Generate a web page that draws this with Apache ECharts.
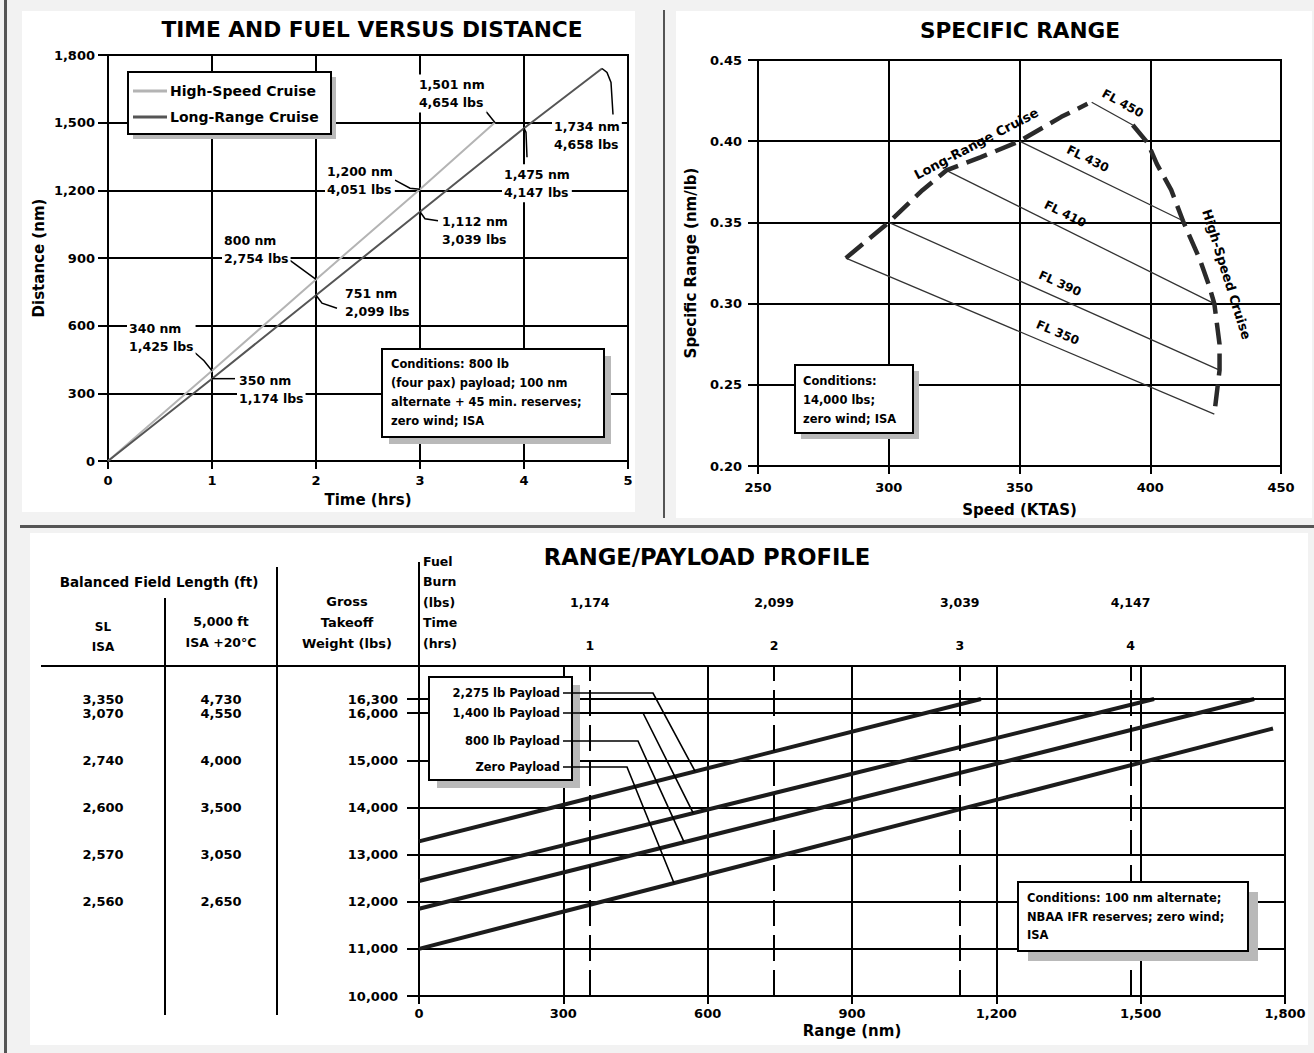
<!DOCTYPE html>
<html>
<head>
<meta charset="utf-8">
<script src="https://cdn.jsdelivr.net/npm/echarts/dist/echarts.min.js"></script>
<style>
  html, body { margin:0; padding:0; background:#f2f2f2; }
  #wrap { position:relative; width:1314px; height:1053px; overflow:hidden; }
  .p { position:absolute; background:#fff; }
  .d { position:absolute; background:#555; }
  #chart { position:absolute; left:0; top:0; width:1314px; height:1053px; }
</style>
</head>
<body>
<div id="wrap">
  <div class="d" style="left:4px;top:0;width:3px;height:1053px;"></div>
  <div class="p" style="left:22px;top:11px;width:613px;height:501px;"></div>
  <div class="p" style="left:676px;top:11px;width:636px;height:507px;"></div>
  <div class="d" style="left:663px;top:10px;width:2px;height:508px;"></div>
  <div class="d" style="left:20px;top:525px;width:1294px;height:3px;"></div>
  <div class="p" style="left:30px;top:533px;width:1278px;height:512px;"></div>
  <div id="chart"></div>
</div>
<script>
// ---------------- DATA ----------------
// Time and fuel versus distance
const hsTime = [0, 1, 2, 3, 3.72];
const hsDist = [0, 400, 805, 1205, 1501];
const lrTime = [0, 1, 2, 3, 4, 4.75];
const lrDist = [0, 365, 735, 1105, 1475, 1740];
const tfdNoteText = [
  ['340 nm', '1,425 lbs'],
  ['350 nm', '1,174 lbs'],
  ['800 nm', '2,754 lbs'],
  ['751 nm', '2,099 lbs'],
  ['1,200 nm', '4,051 lbs'],
  ['1,112 nm', '3,039 lbs'],
  ['1,475 nm', '4,147 lbs'],
  ['1,501 nm', '4,654 lbs'],
  ['1,734 nm', '4,658 lbs']
];
const tfdNoteSeries = ['hs', 'lr', 'hs', 'lr', 'hs', 'lr', 'lr', 'hs', 'lr'];
const tfdNoteIndex = [1, 1, 2, 2, 3, 3, 4, 4, 5];

// Specific range
const lrcSpeed = [283.6, 300, 313, 322, 335, 350, 366, 376];
const lrcSR    = [0.328, 0.350, 0.370, 0.382, 0.390, 0.400, 0.415, 0.423];
const hscSpeed = [393.3, 399, 402.5, 408, 412.5, 419, 422.5, 424.5, 426.5, 426.5, 424.5];
const hscSR    = [0.410, 0.399, 0.386, 0.370, 0.351, 0.327, 0.311, 0.300, 0.275, 0.259, 0.232];
const flNames      = ['FL 450', 'FL 430', 'FL 410', 'FL 390', 'FL 350'];
const flSpeedStart = [377.6, 350, 322, 300, 283.6];
const flSRStart    = [0.424, 0.400, 0.382, 0.350, 0.328];
const flSpeedEnd   = [393.3, 412.5, 424.5, 426.5, 424.5];
const flSREnd      = [0.410, 0.351, 0.300, 0.259, 0.232];

// Range / payload profile
const payloadNames      = ['2,275 lb Payload', '1,400 lb Payload', '800 lb Payload', 'Zero Payload'];
const payloadRangeStart = [0, 0, 0, 0];
const payloadGTWStart   = [13280, 12440, 11850, 11000];
const payloadRangeEnd   = [1168, 1528, 1736, 1775];
const payloadGTWEnd     = [16300, 16300, 16300, 15674];
const payloadCalloutRange = [574, 570, 551, 530];
const timeMarkRange = [355, 738, 1124, 1479];
const timeMarkHours = ['1', '2', '3', '4'];
const timeMarkFuel  = ['1,174', '2,099', '3,039', '4,147'];
const mtowGTW = 16300;
const gtwRows = [16300, 16000, 15000, 14000, 13000, 12000];
const bflSL   = ['3,350', '3,070', '2,740', '2,600', '2,570', '2,560'];
const bfl5000 = ['4,730', '4,550', '4,000', '3,500', '3,050', '2,650'];

// ---------------- STYLE / LAYOUT ----------------
const FONT = "'DejaVu Sans', 'Liberation Sans', sans-serif";
const fmtComma = v => Math.round(v).toLocaleString('en-US');

function makeAxis(grid, min, max, interval, name, nameGap, margin, tickLen, formatter) {
  return {
    type: 'value', gridIndex: grid, min, max, interval,
    name, nameLocation: 'middle', nameGap,
    nameTextStyle: { color: '#000', fontFamily: FONT, fontWeight: 'bold', fontSize: 15 },
    axisLine: { show: true, onZero: false, lineStyle: { color: '#000', width: 2 } },
    axisTick: { show: true, length: tickLen, lineStyle: { color: '#000', width: 2 } },
    splitLine: { show: true, lineStyle: { color: '#000', width: 2 } },
    axisLabel: { color: '#000', fontFamily: FONT, fontWeight: 'bold', fontSize: 13, margin, formatter }
  };
}

const chart = echarts.init(document.getElementById('chart'), null, { renderer: 'svg' });

const series = [];
series.push({ name: 'High-Speed Cruise', type: 'line', xAxisIndex: 0, yAxisIndex: 0, symbol: 'none',
  data: hsTime.map((t, i) => [t, hsDist[i]]), lineStyle: { color: '#b4b4b4', width: 2 }, z: 3 });
series.push({ name: 'Long-Range Cruise', type: 'line', xAxisIndex: 0, yAxisIndex: 0, symbol: 'none',
  data: lrTime.map((t, i) => [t, lrDist[i]]), lineStyle: { color: '#555', width: 2 }, z: 3 });
series.push({ name: 'Long-Range Cruise SR', type: 'line', xAxisIndex: 1, yAxisIndex: 1, symbol: 'none',
  data: lrcSpeed.map((s, i) => [s, lrcSR[i]]), lineStyle: { color: '#2a2a2a', width: 4.5, type: [22, 9] }, z: 4 });
series.push({ name: 'High-Speed Cruise SR', type: 'line', xAxisIndex: 1, yAxisIndex: 1, symbol: 'none',
  data: hscSpeed.map((s, i) => [s, hscSR[i]]), lineStyle: { color: '#2a2a2a', width: 4.5, type: [22, 9] }, z: 4 });
flNames.forEach((n, i) => series.push({ name: n, type: 'line', xAxisIndex: 1, yAxisIndex: 1, symbol: 'none',
  data: [[flSpeedStart[i], flSRStart[i]], [flSpeedEnd[i], flSREnd[i]]], lineStyle: { color: '#333', width: 1.3 }, z: 3 }));
payloadNames.forEach((n, i) => series.push({ name: n, type: 'line', xAxisIndex: 2, yAxisIndex: 2, symbol: 'none',
  data: [[payloadRangeStart[i], payloadGTWStart[i]], [payloadRangeEnd[i], payloadGTWEnd[i]]],
  lineStyle: { color: '#1c1c1c', width: 4 }, z: 4 }));
series[series.length - 1].markLine = {
  silent: true, symbol: ['none', 'none'], animation: false,
  data: timeMarkRange.map(r => ({ xAxis: r, lineStyle: { color: '#000', width: 2, type: [26, 9] }, label: { show: false } }))
    .concat([{ yAxis: mtowGTW, lineStyle: { color: '#000', width: 2, type: 'solid' },
      label: { show: true, position: 'start', distance: 21, formatter: fmtComma(mtowGTW), color: '#000',
        fontFamily: FONT, fontWeight: 'bold', fontSize: 13 } }])
};

const option = {
  animation: false,
  backgroundColor: 'transparent',
  grid: [
    { left: 108, top: 55, width: 520, height: 406, show: true, borderColor: '#000', borderWidth: 2 },
    { left: 758, top: 60, width: 523, height: 406, show: true, borderColor: '#000', borderWidth: 2 },
    { left: 419, top: 666, width: 866, height: 330, show: true, borderColor: '#000', borderWidth: 2 }
  ],
  xAxis: [
    makeAxis(0, 0, 5, 1, 'Time (hrs)', 31, 13, 8, v => String(v)),
    makeAxis(1, 250, 450, 50, 'Speed (KTAS)', 36, 15, 8, v => String(v)),
    makeAxis(2, 0, 1800, 300, 'Range (nm)', 27, 11, 8, v => fmtComma(v))
  ],
  yAxis: [
    makeAxis(0, 0, 1800, 300, 'Distance (nm)', 62, 13, 10, v => fmtComma(v)),
    makeAxis(1, 0.2, 0.45, 0.05, 'Specific Range (nm/lb)', 60, 16, 10, v => v.toFixed(2)),
    makeAxis(2, 10000, 17000, 1000, '', 0, 21, 12, v => (v >= 17000 ? '' : fmtComma(v)))
  ],
  series
};
chart.setOption(option);

// ---------------- ANNOTATIONS ----------------
const G = [];
const P = (grid, x, y) => chart.convertToPixel({ gridIndex: grid }, [x, y]);
function txt(x, y, s, o) {
  o = o || {};
  G.push({ type: 'text', x, y, z: o.z || 100, rotation: o.rotation || 0, silent: true,
    style: { text: s, fill: '#000', fontFamily: o.family || FONT, fontWeight: o.weight || 'bold',
      fontSize: o.size || 12.5, lineHeight: o.lh || 18,
      align: o.align || 'left', textAlign: o.align || 'left',
      verticalAlign: o.va || 'middle', textVerticalAlign: o.va || 'middle',
      backgroundColor: o.bg || null, padding: o.bg ? [1, 2] : 0 } });
}
function pl(pts, o) {
  o = o || {};
  G.push({ type: 'polyline', z: o.z || 99, silent: true, shape: { points: pts },
    style: { stroke: o.color || '#000', lineWidth: o.w || 1.5, fill: null } });
}
function box(x, y, w, h, sh) {
  G.push({ type: 'rect', z: 94, silent: true, shape: { x: x + sh, y: y + sh, width: w, height: h }, style: { fill: '#b9b9b9' } });
  G.push({ type: 'rect', z: 95, silent: true, shape: { x, y, width: w, height: h }, style: { fill: '#fff', stroke: '#000', lineWidth: 2 } });
}

// Titles
txt(372, 29, 'TIME AND FUEL VERSUS DISTANCE', { size: 21.7, align: 'center' });
txt(1020, 30, 'SPECIFIC RANGE', { size: 21.6, align: 'center' });
txt(707, 557, 'RANGE/PAYLOAD PROFILE', { size: 22.7, align: 'center' });

// Chart 1 legend
box(128, 72, 203, 62, 5);
pl([[133, 91], [167, 91]], { color: '#b4b4b4', w: 3, z: 96 });
pl([[133, 117], [167, 117]], { color: '#555', w: 3, z: 96 });
txt(170, 91, 'High-Speed Cruise', { size: 14 });
txt(170, 117, 'Long-Range Cruise', { size: 14 });

// Chart 1 point callouts (label offset and leader path relative to the marked point)
const tfdNoteLayout = [
  { dx: -85, dy: -52, leader: [[-17, -18], [-8, -10], [0, 0]] },
  { dx: 25, dy: -8, leader: [[0, 0], [23, 0]] },
  { dx: -94, dy: -49, leader: [[-26, -19], [0, 0]] },
  { dx: 27, dy: -12, leader: [[0, 0], [6, 8], [21, 13]] },
  { dx: -95, dy: -28, leader: [[-25, -9], [-10, -1], [0, 0]] },
  { dx: 20, dy: 0, leader: [[0, 0], [5, 7], [18, 9]] },
  { dx: -22, dy: 36, leader: [[0, 0], [2, 4], [3, 29]] },
  { dx: -78, dy: -48, leader: [[-12, -15], [0, 0]] },
  { dx: -50, dy: 48, leader: [[0, 0], [5, 4], [9, 14], [11, 46]] }
];
tfdNoteText.forEach((lines, i) => {
  const isHS = tfdNoteSeries[i] === 'hs';
  const k = tfdNoteIndex[i];
  const a = isHS ? P(0, hsTime[k], hsDist[k]) : P(0, lrTime[k], lrDist[k]);
  const L = tfdNoteLayout[i];
  pl(L.leader.map(p => [a[0] + p[0], a[1] + p[1]]));
  txt(a[0] + L.dx, a[1] + L.dy, lines.join('\n'), { va: 'top', bg: '#fff' });
});

// Chart 1 conditions
box(382, 349, 222, 88, 7);
txt(391, 354, 'Conditions: 800 lb\n(four pax) payload; 100 nm\nalternate + 45 min. reserves;\nzero wind; ISA', { size: 11.5, lh: 19, va: 'top' });

// Chart 2 FL labels (along each line, offset above it)
const flLabelFrac = [0.59, 0.38, 0.42, 0.50, 0.56];
flNames.forEach((n, i) => {
  const a = P(1, flSpeedStart[i], flSRStart[i]);
  const b = P(1, flSpeedEnd[i], flSREnd[i]);
  const dx = b[0] - a[0], dy = b[1] - a[1], len = Math.hypot(dx, dy);
  const f = flLabelFrac[i], off = 14;
  const cx = a[0] + f * dx + off * dy / len, cy = a[1] + f * dy - off * dx / len;
  txt(cx, cy, n, { align: 'center', rotation: -Math.atan2(dy, dx), size: 12 });
});
// Curve labels
(function () {
  const a = P(1, lrcSpeed[2], lrcSR[2]), b = P(1, lrcSpeed[6], lrcSR[6]);
  const c = P(1, 333.5, 0.3985);
  txt(c[0], c[1], 'Long-Range Cruise', { align: 'center', rotation: -Math.atan2(b[1] - a[1], b[0] - a[0]), size: 13 });
  const h = P(1, 429.2, 0.318);
  txt(h[0], h[1], 'High-Speed Cruise', { align: 'center', rotation: -72.6 * Math.PI / 180, size: 13 });
})();
box(795, 365, 118, 68, 6);
txt(803, 371.5, 'Conditions:\n14,000 lbs;\nzero wind; ISA', { size: 11.5, lh: 19, va: 'top' });

// Chart 3 table at left
const ax = P(2, 0, 10000)[0];
const topY = P(2, 0, 17000)[1];
pl([[41, topY], [ax, topY]], { w: 2 });
pl([[165, 598], [165, 1015]], { w: 2 });
pl([[277, 567], [277, 1015]], { w: 2 });
pl([[ax, 562], [ax, topY]], { w: 2 });
txt(159, 582, 'Balanced Field Length (ft)', { align: 'center', size: 13.5 });
txt(103, 637, 'SL\nISA', { align: 'center', size: 12, lh: 20 });
txt(221, 632, '5,000 ft\nISA +20°C', { align: 'center', size: 12.5, lh: 21 });
txt(347, 622, 'Gross\nTakeoff\nWeight (lbs)', { align: 'center', size: 13, lh: 21 });
txt(423, 602, 'Fuel\nBurn\n(lbs)\nTime\n(hrs)', { size: 12.5, lh: 20.5 });
gtwRows.forEach((g, i) => {
  const y = P(2, 0, g)[1];
  txt(103, y, bflSL[i], { align: 'center', size: 13 });
  txt(221, y, bfl5000[i], { align: 'center', size: 13 });
});
// MTOW tick
(function () { const y = P(2, 0, mtowGTW)[1]; pl([[ax - 12, y], [ax, y]], { w: 2 }); })();
// Fuel / time above the dashed markers
timeMarkRange.forEach((r, i) => {
  const x = P(2, r, 10000)[0];
  txt(x, 602, timeMarkFuel[i], { align: 'center', size: 12.5 });
  txt(x, 645, timeMarkHours[i], { align: 'center', size: 12.5 });
});
// Payload callout box and leaders
box(429, 677, 143, 103, 8);
const calloutY = [693, 713, 741, 767];
const calloutCornerX = [653, 643, 638, 627];
payloadNames.forEach((n, i) => {
  const r = payloadCalloutRange[i];
  const g = payloadGTWStart[i] + (payloadGTWEnd[i] - payloadGTWStart[i]) * (r - payloadRangeStart[i]) / (payloadRangeEnd[i] - payloadRangeStart[i]);
  const t = P(2, r, g);
  pl([[563, calloutY[i]], [calloutCornerX[i], calloutY[i]], t], { w: 1.6, z: 97 });
  txt(560, calloutY[i], n, { align: 'right', size: 11.5 });
});
box(1018, 882, 230, 69, 10);
txt(1027, 889, 'Conditions: 100 nm alternate;\nNBAA IFR reserves; zero wind;\nISA', { size: 11.5, lh: 18.5, va: 'top' });

chart.setOption({ graphic: { elements: G } });
</script>
</body>
</html>
